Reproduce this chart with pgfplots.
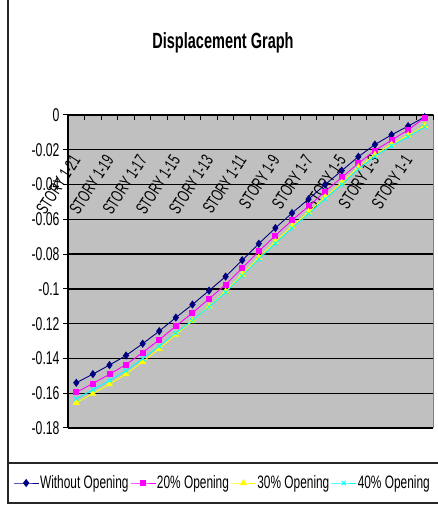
\documentclass[border=0pt]{standalone}
\usepackage{fontspec}
\setmainfont{Liberation Sans}[FakeStretch=0.66]
\usepackage{pgfplots}
\usepackage{pgfplotstable}
\pgfplotsset{compat=1.18}

\definecolor{xlnavy}{HTML}{000080}
\definecolor{xlmagenta}{HTML}{FF00FF}
\definecolor{xlyellow}{HTML}{FFFF00}
\definecolor{xlcyan}{HTML}{00FFFF}
\definecolor{xlplot}{HTML}{C0C0C0}
\definecolor{xlborder}{HTML}{808080}

% storey displacement, STORY 1-21 (1) down to the base (22)
\pgfplotstableread{
story  noopen   open20   open30   open40
1   -0.1540  -0.1595  -0.1655  -0.1632
2   -0.1490  -0.1544  -0.1602  -0.1580
3   -0.1438  -0.1491  -0.1548  -0.1527
4   -0.1383  -0.1435  -0.1490  -0.1471
5   -0.1315  -0.1366  -0.1419  -0.1402
6   -0.1243  -0.1293  -0.1344  -0.1330
7   -0.1165  -0.1214  -0.1263  -0.1254
8   -0.1090  -0.1138  -0.1185  -0.1182
9   -0.1010  -0.1057  -0.1101  -0.1103
10  -0.0929  -0.0975  -0.1014  -0.1020
11  -0.0835  -0.0880  -0.0917  -0.0925
12  -0.0740  -0.0784  -0.0820  -0.0829
13  -0.0650  -0.0693  -0.0728  -0.0738
14  -0.0564  -0.0606  -0.0640  -0.0651
15  -0.0484  -0.0525  -0.0558  -0.0569
16  -0.0400  -0.0440  -0.0472  -0.0483
17  -0.0320  -0.0359  -0.0389  -0.0400
18  -0.0240  -0.0278  -0.0300  -0.0311
19  -0.0170  -0.0204  -0.0228  -0.0238
20  -0.0114  -0.0145  -0.0169  -0.0178
21  -0.0064  -0.0086  -0.0117  -0.0125
22  -0.0012  -0.0015  -0.0062  -0.0068
}\disp

\begin{document}
\begin{tikzpicture}
\path[use as bounding box] (0,0) rectangle (438bp,506bp);
% chart frame and legend box
\draw[line width=1.3bp, black!85] (8bp,506bp) -- (8bp,3bp) -- (438bp,3bp);
\draw[line width=1.3bp, black!85] (8bp,43bp) -- (438bp,43bp);
\node[font=\fontsize{22bp}{24bp}\selectfont\bfseries] at (223bp,463bp) {Displacement Graph};

\begin{axis}[
  at={(68bp,78bp)}, anchor=south west,
  width=365bp, height=313bp, scale only axis,
  xmin=0.5, xmax=22.5, ymin=-0.18, ymax=0,
  clip=false,
  axis x line*=top, axis y line*=left,
  axis line style={line width=1.3bp, black},
  axis background/.style={fill=xlplot, draw=xlborder, line width=1bp},
  xtick={0.5,1.5,...,22.5}, xticklabels={},
  xtick align=inside, ytick align=outside,
  major tick length=5bp,
  tick style={black, line width=1bp},
  extra x ticks={1,3,5,7,9,11,13,15,17,19,21},
  extra x tick labels={STORY 1-21,STORY 1-19,STORY 1-17,STORY 1-15,STORY 1-13,STORY 1-11,STORY 1-9,STORY 1-7,STORY 1-5,STORY 1-3,STORY 1-1},
  extra x tick style={major tick length=0pt,
    tick label style={yshift=-42bp, anchor=east, rotate=57, inner sep=0pt,
      font=\fontsize{17.5bp}{18bp}\selectfont}},
  ytick={-0.18,-0.16,-0.14,-0.12,-0.1,-0.08,-0.06,-0.04,-0.02,0},
  yticklabels={-0.18,-0.16,-0.14,-0.12,-0.1,-0.08,-0.06,-0.04,-0.02,0},
  y tick label style={font=\fontsize{18.5bp}{20bp}\selectfont},
  ymajorgrids, y grid style={black, line width=1.4bp},
  legend columns=4,
  legend style={at={(-0.1507,-0.1757)}, anchor=west, draw=none, fill=none,
    font=\fontsize{18bp}{20bp}\selectfont, inner sep=0pt,
    nodes={inner sep=1bp},
    /tikz/every even column/.append style={column sep=0.5bp}},
  legend image code/.code={\draw[mark repeat=2,mark phase=2,#1]
    plot coordinates {(0bp,0bp) (12.5bp,0bp) (25bp,0bp)};},
]
\addplot[xlnavy, line width=0.9bp, mark=diamond*, mark size=3.4bp, mark options={solid}]
  table[x=story, y=noopen] {\disp};
\addplot[xlmagenta, line width=0.9bp, mark=square*, mark size=2.5bp, mark options={solid}]
  table[x=story, y=open20] {\disp};
\addplot[xlyellow, line width=0.9bp, mark=triangle*, mark size=3.2bp, mark options={solid}]
  table[x=story, y=open30] {\disp};
\addplot[xlcyan, line width=0.9bp, mark=x, mark size=3bp, mark options={solid}]
  table[x=story, y=open40] {\disp};
\legend{Without Opening, 20\% Opening, 30\% Opening, 40\% Opening}
\end{axis}
\end{tikzpicture}
\end{document}
